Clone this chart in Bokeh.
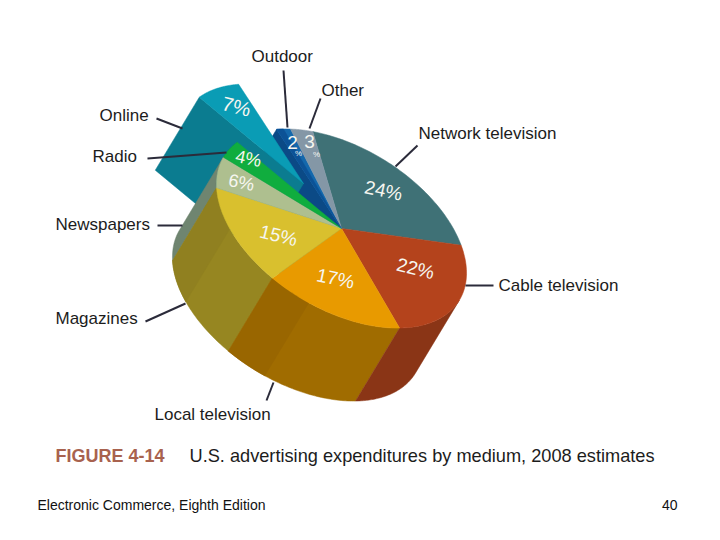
import numpy as np
from bokeh.plotting import figure
from bokeh.models import Range1d, ColumnDataSource
from bokeh.core.properties import value
from bokeh.embed import file_html
from bokeh.resources import INLINE

# ---- data ----
categories = ["Network television", "Cable television", "Local television", "Magazines",
              "Newspapers", "Radio", "Online", "Outdoor", "Other"]
shares = [24, 22, 17, 15, 6, 4, 7, 2, 3]
top_colors = ["#3f7176", "#b4431c", "#e89a00", "#d9c02e", "#aebf8f", "#10ad3e", "#0a9cb5", "#1468ac", "#8497a6"]
side_colors = ["#2f5558", "#8a3516", "#a06c00", "#968621", "#6f8570", "#0a7a2c", "#0b7c90", "#0b4a86", "#5f6f7c"]
side_shades = ["#2f5558", "#8a3516", "#996600", "#908020", "#6f8570", "#0a7a2c", "#0b7c90", "#0b4a86", "#5f6f7c"]

# ---- layout (pixels on the page) ----
FONT = value("Liberation Sans")
C = np.array([341.0, 228.0])
U = np.array([-28.7, -96.9])
V = np.array([121.7, 22.9])
DEPTH = np.array([-44.0, 73.0])
EXPLODE = np.array([-38.0, -45.0])

p = figure(width=704, height=524, output_backend="svg", toolbar_location=None,
           x_range=Range1d(0, 704), y_range=Range1d(524, 0), min_border=0)
p.axis.visible = False
p.grid.visible = False
p.outline_line_color = None
p.background_fill_color = "white"


def pt(deg, shift=(0, 0)):
    t = np.radians(np.asarray(deg, dtype=float))
    return (C[0] + U[0] * np.cos(t) + V[0] * np.sin(t) + shift[0],
            C[1] + U[1] * np.cos(t) + V[1] * np.sin(t) + shift[1])


def arc(a0, a1, shift=(0, 0)):
    return pt(np.linspace(a0, a1, 60), shift)


def fill(xs, ys, color):
    p.patch(list(xs), list(ys), fill_color=color, line_color=color, line_width=0.5)


def side(a0, a1, color):
    x0, y0 = arc(a0, a1)
    x1, y1 = arc(a0, a1, DEPTH)
    fill([*x0, *x1[::-1]], [*y0, *y1[::-1]], color)


edges = np.concatenate([[0], np.cumsum(shares)]) * 360.0 / sum(shares)
idx = {c: i for i, c in enumerate(categories)}
on = idx["Online"]
out = idx["Outdoor"]

# angle at which the rim's tangent runs along the extrusion direction
cross_s = U[0] * DEPTH[1] - U[1] * DEPTH[0]
cross_c = V[0] * DEPTH[1] - V[1] * DEPTH[0]
silhouette = np.degrees(np.arctan2(cross_c, cross_s)) % 180

# outdoor's radial wall exposed by the exploded slice
tx, ty = pt(edges[out])
fill([C[0], tx, tx + DEPTH[0], C[0] + DEPTH[0]], [C[1], ty, ty + DEPTH[1], C[1] + DEPTH[1]], side_colors[out])

# exploded online slice: radial wall and top
ax, ay = C + EXPLODE
tx, ty = pt(edges[on], EXPLODE)
fill([ax, tx, tx + DEPTH[0], ax + DEPTH[0]], [ay, ty, ty + DEPTH[1], ay + DEPTH[1]], side_colors[on])
x, y = arc(edges[on], edges[on + 1], EXPLODE)
fill([ax, *x], [ay, *y], top_colors[on])

# outer side walls, back to front
i = idx["Newspapers"]
side(edges[i], edges[i + 1], side_colors[i])
i = idx["Magazines"]
side(edges[i], edges[i + 1], side_colors[i])
side(edges[i] + 0.55 * (edges[i + 1] - edges[i]), edges[i + 1], side_shades[i])
i = idx["Local television"]
side(edges[i], edges[i + 1], side_colors[i])
side(edges[i] + 0.7 * (edges[i + 1] - edges[i]), edges[i + 1], side_shades[i])
i = idx["Cable television"]
side(silhouette, edges[i + 1], side_colors[i])

# top faces
for i in range(len(shares)):
    if i == on:
        continue
    x, y = arc(edges[i], edges[i + 1])
    fill([C[0], *x], [C[1], *y], top_colors[i])
x, y = arc(edges[out], edges[out] + 0.5 * (edges[out + 1] - edges[out]))
fill([C[0], *x], [C[1], *y], "#0c5296")

# leader lines
lead_x0 = [395, 465, 273, 145, 157, 147, 156, 283, 320]
lead_y0 = [166, 285, 382, 321, 225, 158, 118, 70, 98]
lead_x1 = [417, 493, 266, 185, 182, 226, 182, 287, 309]
lead_y1 = [145, 285, 400, 303, 225, 152, 128, 127, 128]
p.segment(lead_x0, lead_y0, lead_x1, lead_y1, line_color="#2b2b3a", line_width=2)

# category labels
label_x = [418, 498, 154, 55, 55, 92, 99, 251, 321]
label_y = [133, 285, 414, 318, 224, 156, 115, 56, 90]
p.text(label_x, label_y, text=categories, text_font_size="17px", text_font=FONT,
       text_color="#1c1c1c", text_baseline="middle", text_align="left")

# percentage labels
pct_x = [383, 415, 335, 278, 241, 248, 236, 292, 309]
pct_y = [190, 268, 278, 235, 182, 158, 106, 142, 141]
pct_rot = [-12, -14, -12, -14, -12, -12, -14, 0, 0]
pct_size = ["19px", "19px", "19px", "19px", "18px", "18px", "20px", "19px", "19px"]
pct_text = [f"{v}%" for v in shares]
pct_text[out] = str(shares[out])
pct_text[out + 1] = str(shares[out + 1])
pct_source = ColumnDataSource(dict(x=pct_x, y=pct_y, t=pct_text, s=pct_size,
                                   a=[float(np.radians(a)) for a in pct_rot]))
p.text("x", "y", text="t", source=pct_source, text_font_size={"field": "s"}, text_font=FONT,
       text_color="#f6f6f0", text_baseline="middle", text_align="center", angle="a")
p.text([298, 316], [153, 154], text=["%", "%"], text_font_size="8px", text_font=FONT,
       text_color="#f6f6f0", text_baseline="middle", text_align="center")

# caption and footer
p.text([55], [455], text=["FIGURE 4-14"], text_font_size="18px", text_font=FONT,
       text_font_style="bold", text_color="#a8624e", text_baseline="middle")
p.text([189], [455], text=["U.S. advertising expenditures by medium, 2008 estimates"], text_font_size="18.2px",
       text_font=FONT, text_color="#1c1c1c", text_baseline="middle")
p.text([37], [504], text=["Electronic Commerce, Eighth Edition"], text_font_size="14px",
       text_font=FONT, text_color="#111111", text_baseline="middle")
p.text([677], [504], text=["40"], text_font_size="14px", text_font=FONT,
       text_color="#111111", text_baseline="middle", text_align="right")

open("out.html", "w").write(file_html(p, INLINE))
